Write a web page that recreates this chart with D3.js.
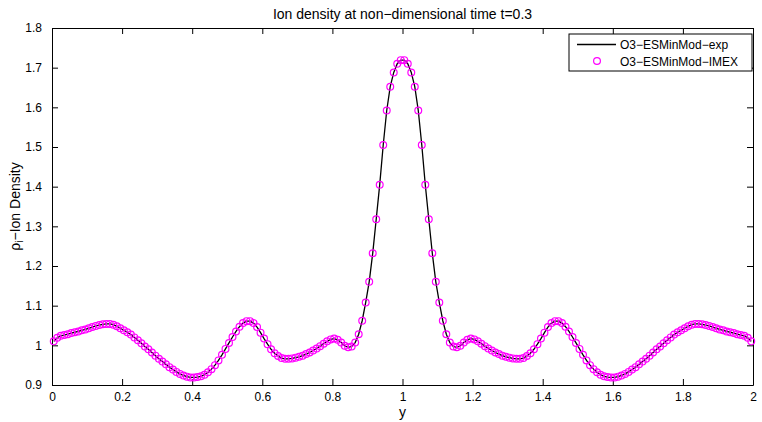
<!DOCTYPE html>
<html>
<head>
<meta charset="utf-8">
<script src="https://cdn.jsdelivr.net/npm/d3@7"></script>
<style>
  body { margin: 0; background: #fff; }
  text { font-family: "Liberation Sans", Arial, sans-serif; fill: #000; }
</style>
</head>
<body>
<svg width="762" height="422"></svg>
<script>
var titleText = "Ion density at non\u2212dimensional time t=0.3"
var xTicks = [0, 0.2, 0.4, 0.6, 0.8, 1, 1.2, 1.4, 1.6, 1.8, 2]
var yTicks = [0.9, 1, 1.1, 1.2, 1.3, 1.4, 1.5, 1.6, 1.7, 1.8]
var seriesNames = ["O3\u2212ESMinMod\u2212exp", "O3\u2212ESMinMod\u2212IMEX"]

// cell centres of the grid, 0.005 .. 1.995
var cells = d3.range(200).map(i => 0.005 + i * 0.01)

// ion density, left half then right half
var densLeft = [
  1.010,1.019,1.024,1.026,1.028,1.031,1.033,1.035,1.038,1.040,
  1.043,1.046,1.049,1.051,1.053,1.054,1.054,1.052,1.048,1.043,
  1.038,1.033,1.027,1.020,1.013,1.005,0.997,0.990,0.982,0.974,
  0.966,0.959,0.952,0.945,0.939,0.933,0.928,0.924,0.921,0.919,
  0.919,0.920,0.922,0.926,0.932,0.940,0.950,0.962,0.976,0.991,
  1.006,1.021,1.035,1.047,1.056,1.061,1.061,1.056,1.046,1.032,
  1.017,1.003,0.990,0.980,0.973,0.968,0.966,0.966,0.967,0.969,
  0.971,0.974,0.978,0.982,0.987,0.992,0.998,1.004,1.010,1.015,
  1.017,1.014,1.007,0.999,0.995,0.997,1.007,1.028,1.062,1.108,
  1.160,1.232,1.318,1.405,1.505,1.592,1.652,1.688,1.710,1.719
]
var densRight = [
  1.719,1.710,1.688,1.652,1.592,1.505,1.405,1.318,1.232,1.160,
  1.108,1.062,1.028,1.007,0.997,0.995,0.999,1.007,1.014,1.017,
  1.015,1.010,1.004,0.998,0.992,0.987,0.982,0.978,0.974,0.971,
  0.969,0.967,0.966,0.966,0.968,0.973,0.980,0.990,1.003,1.017,
  1.032,1.046,1.056,1.061,1.061,1.056,1.047,1.035,1.021,1.006,
  0.991,0.976,0.962,0.950,0.940,0.932,0.926,0.922,0.920,0.919,
  0.919,0.921,0.924,0.928,0.933,0.939,0.945,0.952,0.959,0.966,
  0.974,0.982,0.990,0.997,1.005,1.013,1.020,1.027,1.033,1.038,
  1.043,1.048,1.052,1.054,1.054,1.053,1.051,1.049,1.046,1.043,
  1.040,1.038,1.035,1.033,1.031,1.028,1.026,1.024,1.019,1.010
]
var dens = densLeft.concat(densRight)
var pts = cells.map((c, i) => [c, dens[i]])

var svg = d3.select('svg')
var width = 762
var height = 422
var margin = {left: 52, right: 9, top: 28, bottom: 37}

var x = d3.scaleLinear()
  .domain([0, 2])
  .range([margin.left, width - margin.right])
var y = d3.scaleLinear()
  .domain([0.9, 1.8])
  .range([height - margin.bottom, margin.top])

var tickLen = 6

// bottom & top axes, ticks pointing in
svg.append("g")
  .attr("transform", `translate(0,${height - margin.bottom})`)
  .call(d3.axisBottom(x).tickValues(xTicks).tickSizeInner(-tickLen).tickSizeOuter(0).tickPadding(7).tickFormat(d3.format("")))
  .call(g => g.selectAll("text").attr("font-size", 12).attr("font-family", "Liberation Sans, Arial, sans-serif"))
svg.append("g")
  .attr("transform", `translate(0,${margin.top})`)
  .call(d3.axisTop(x).tickValues(xTicks).tickSizeInner(-tickLen).tickSizeOuter(0).tickFormat(""))
svg.append("g")
  .attr("transform", `translate(${margin.left},0)`)
  .call(d3.axisLeft(y).tickValues(yTicks).tickSizeInner(-tickLen).tickSizeOuter(0).tickPadding(10).tickFormat(d3.format("")))
  .call(g => g.selectAll("text").attr("font-size", 12).attr("font-family", "Liberation Sans, Arial, sans-serif"))
svg.append("g")
  .attr("transform", `translate(${width - margin.right},0)`)
  .call(d3.axisRight(y).tickValues(yTicks).tickSizeInner(-tickLen).tickSizeOuter(0).tickFormat(""))

svg.selectAll(".domain").attr("stroke", "#000").attr("stroke-width", 1)
svg.selectAll(".tick line").attr("stroke", "#000")

// curve + markers
var line = d3.line()
  .x(d => x(d[0]))
  .y(d => y(d[1]))

svg.append("path")
  .datum(pts)
  .attr("fill", "none")
  .attr("stroke", "#000")
  .attr("stroke-width", 1.3)
  .attr("d", line)

svg.append("g")
  .selectAll("circle")
  .data(pts)
  .enter()
  .append("circle")
    .attr("cx", d => x(d[0]))
    .attr("cy", d => y(d[1]))
    .attr("r", 3.4)
    .attr("fill", "none")
    .attr("stroke", "#ff00ff")
    .attr("stroke-width", 1.2)

// title and labels
svg.append("text")
  .attr("x", (x(0) + x(2)) / 2)
  .attr("y", 19)
  .attr("text-anchor", "middle")
  .attr("font-size", 14)
  .text(titleText)

svg.append("text")
  .attr("x", (x(0) + x(2)) / 2)
  .attr("y", 417)
  .attr("text-anchor", "middle")
  .attr("font-size", 14)
  .text("y")

var yl = svg.append("text")
  .attr("transform", `translate(20,${(y(0.9) + y(1.8)) / 2}) rotate(-90)`)
  .attr("text-anchor", "middle")
  .attr("font-size", 14)
yl.append("tspan").text("\u03c1")
yl.append("tspan").attr("font-size", 10).attr("dy", 3).text("i")
yl.append("tspan").attr("dy", -3).text("\u2212Ion Density")

// legend
var lg = svg.append("g").attr("transform", "translate(569,34)")
lg.append("rect")
  .attr("width", 183)
  .attr("height", 37)
  .attr("fill", "#fff")
  .attr("stroke", "#000")
  .attr("stroke-width", 1)
lg.append("line")
  .attr("x1", 8).attr("x2", 47)
  .attr("y1", 10.5).attr("y2", 10.5)
  .attr("stroke", "#000")
  .attr("stroke-width", 1.3)
lg.append("circle")
  .attr("cx", 28).attr("cy", 27)
  .attr("r", 3.4)
  .attr("fill", "none")
  .attr("stroke", "#ff00ff")
  .attr("stroke-width", 1.2)
lg.selectAll("text.lab")
  .data(seriesNames)
  .enter()
  .append("text")
    .attr("class", "lab")
    .attr("x", 51)
    .attr("y", (d, i) => 15 + i * 16.5)
    .attr("font-size", 12)
    .text(d => d)
</script>
</body>
</html>
